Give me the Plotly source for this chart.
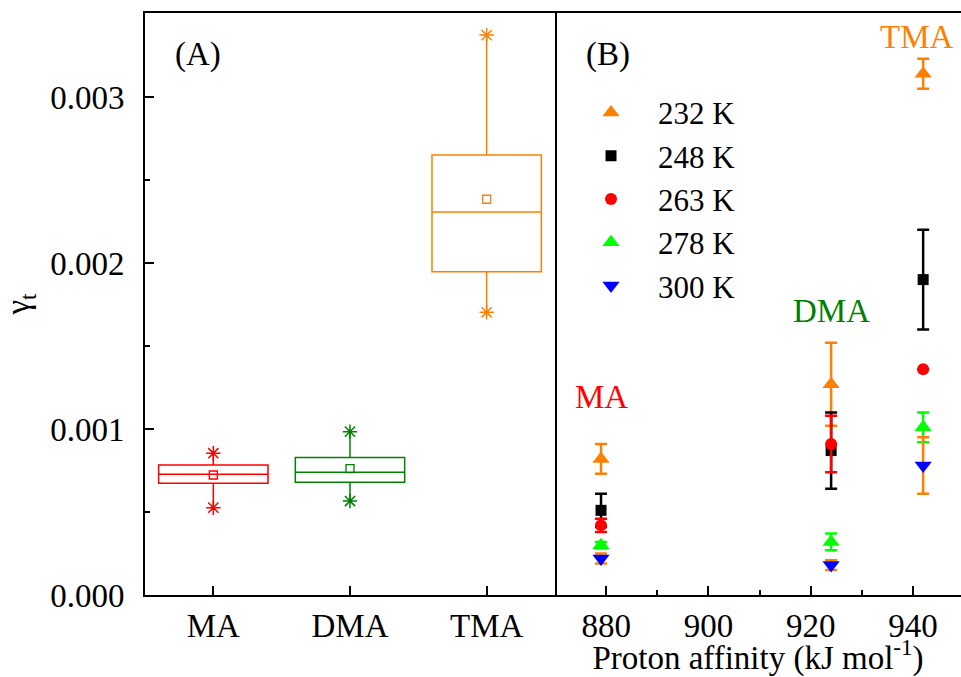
import plotly.graph_objects as go

# ---------------- data ----------------
amines = ["MA", "DMA", "TMA"]
box_colors = ["#FF0000", "#008000", "#FF8000"]
box_min = [0.000526, 0.000566, 0.001703]
box_q1 = [0.000673, 0.000679, 0.001948]
box_median = [0.000727, 0.000739, 0.002307]
box_q3 = [0.000783, 0.000829, 0.002650]
box_max = [0.000854, 0.000984, 0.003373]
box_mean = [0.000723, 0.000761, 0.002384]

proton_affinity = [879, 924, 942]
temps = ["232 K", "248 K", "263 K", "278 K", "300 K"]
gamma = {
    "232 K": [0.00082, 0.00127, 0.00314],
    "248 K": [0.00051, 0.00087, 0.00190],
    "263 K": [0.00042, 0.00091, 0.00136],
    "278 K": [0.00030, 0.00032, 0.00101],
    "300 K": [0.00022, 0.00018, 0.00078],
}
gamma_err = {
    "232 K": [0.00009, 0.00025, 0.00009],
    "248 K": [0.00010, 0.00023, 0.00030],
    "263 K": [0.00004, 0.00017, None],
    "278 K": [0.00002, 0.00005, 0.00009],
    "300 K": [0.00003, 0.00003, 0.00017],
}
marker_colors = {"232 K": "#FF8000", "248 K": "#000000", "263 K": "#FF0000",
                 "278 K": "#00FF00", "300 K": "#0000FF"}
err_colors = {"232 K": "#FF8000", "248 K": "#000000", "263 K": "#FF0000",
              "278 K": "#00FF00", "300 K": "#FF8000"}
symbols = {"232 K": "triangle-up", "248 K": "square", "263 K": "circle",
           "278 K": "triangle-up", "300 K": "triangle-down"}
sizes = {"232 K": 15, "248 K": 11, "263 K": 12, "278 K": 15, "300 K": 15}

label_pos = {"MA": (879, 0.00119), "DMA": (924, 0.00171), "TMA": (940.8, 0.00336)}

FONT = "Liberation Serif"
FS = 33

fig = go.Figure()

# ---------------- panel A: boxes ----------------
for i, a in enumerate(amines):
    c = box_colors[i]
    fig.add_trace(go.Box(
        x=[a], q1=[box_q1[i]], median=[box_median[i]], q3=[box_q3[i]],
        lowerfence=[box_min[i]], upperfence=[box_max[i]],
        width=0.8, whiskerwidth=0, fillcolor="rgba(0,0,0,0)",
        line=dict(color=c, width=1.5), boxpoints=False,
        showlegend=False, xaxis="x", yaxis="y", hoverinfo="skip"))
    fig.add_trace(go.Scatter(
        x=[a], y=[box_mean[i]], mode="markers",
        marker=dict(symbol="square-open", size=8, color=c, line=dict(width=1.3, color=c)),
        showlegend=False, xaxis="x", yaxis="y"))
    fig.add_trace(go.Scatter(
        x=[a, a], y=[box_min[i], box_max[i]], mode="markers",
        marker=dict(symbol="asterisk-open", size=12, color=c, line=dict(width=1.5, color=c)),
        showlegend=False, xaxis="x", yaxis="y"))

# ---------------- panel B: points ----------------
for t in temps:
    fig.add_trace(go.Scatter(
        x=proton_affinity, y=gamma[t], mode="markers", name=t,
        marker=dict(symbol=symbols[t], size=sizes[t], color=marker_colors[t], line=dict(width=0)),
        error_y=dict(type="data", array=gamma_err[t], color=err_colors[t],
                     thickness=2.5, width=6),
        legendgroup=t, xaxis="x2", yaxis="y2"))

annotations = [
    dict(text="(A)", x=0.065, y=0.928, xref="paper", yref="paper", showarrow=False,
         xanchor="center", yanchor="middle",
         font=dict(family=FONT, size=FS, color="black")),
    dict(text="(B)", x=0.567, y=0.928, xref="paper", yref="paper", showarrow=False,
         xanchor="center", yanchor="middle",
         font=dict(family=FONT, size=FS, color="black")),
]
for a, c in zip(amines, box_colors):
    px, py = label_pos[a]
    annotations.append(dict(text=a, x=px, y=py, xref="x2", yref="y2", showarrow=False,
                            xanchor="center", yanchor="middle",
                            font=dict(family=FONT, size=FS, color=c)))

split = (555 - 145) / 816
yr = [0, 0.003506]

fig.update_layout(
    width=961, height=677,
    margin=dict(l=145, r=0, t=13, b=82),
    paper_bgcolor="white", plot_bgcolor="white",
    font=dict(family=FONT, size=FS, color="black"),
    boxmode="overlay",
    xaxis=dict(domain=[0, split], range=[-0.5, 2.5], type="category",
               categoryorder="array", categoryarray=amines,
               showline=True, linecolor="black", linewidth=2, mirror=True,
               ticks="inside", ticklen=9, tickwidth=2, tickcolor="black",
               showgrid=False, zeroline=False, ticklabelstandoff=0,
               tickfont=dict(family=FONT, size=FS)),
    yaxis=dict(domain=[0, 1], range=yr, showline=True, linecolor="black", linewidth=2,
               mirror=True, ticks="inside", ticklen=9, tickwidth=2, tickcolor="black",
               tick0=0, dtick=0.001, tickformat=".3f", showgrid=False, zeroline=False,
               minor=dict(ticks="inside", ticklen=5, tickwidth=2, dtick=0.0005, tick0=0,
                          tickcolor="black", showgrid=False),
               ticklabelstandoff=12,
               title=dict(text="γ<sub>t</sub>", standoff=28, font=dict(family=FONT, size=FS)),
               tickfont=dict(family=FONT, size=FS)),
    xaxis2=dict(domain=[split, 1], range=[870, 949.4], anchor="y2",
                showline=True, linecolor="black", linewidth=2, mirror=True,
                ticks="inside", ticklen=9, tickwidth=2, tickcolor="black",
                tick0=880, dtick=20, showgrid=False, zeroline=False,
                minor=dict(ticks="inside", ticklen=5, tickwidth=2, dtick=10, tick0=870,
                           tickcolor="black", showgrid=False),
                ticklabelstandoff=0,
                title=dict(text="Proton affinity (kJ mol<sup>-1</sup>)", standoff=4,
                           font=dict(family=FONT, size=FS)),
                tickfont=dict(family=FONT, size=FS)),
    yaxis2=dict(domain=[0, 1], range=yr, anchor="x2", showline=False,
                showticklabels=False, ticks="", showgrid=False, zeroline=False),
    legend=dict(x=0.5135, y=0.875, xanchor="left", yanchor="top",
                bgcolor="rgba(0,0,0,0)", font=dict(family=FONT, size=31),
                itemwidth=84, tracegroupgap=0, traceorder="normal"),
    annotations=annotations,
)

fig.write_html("out.html")
